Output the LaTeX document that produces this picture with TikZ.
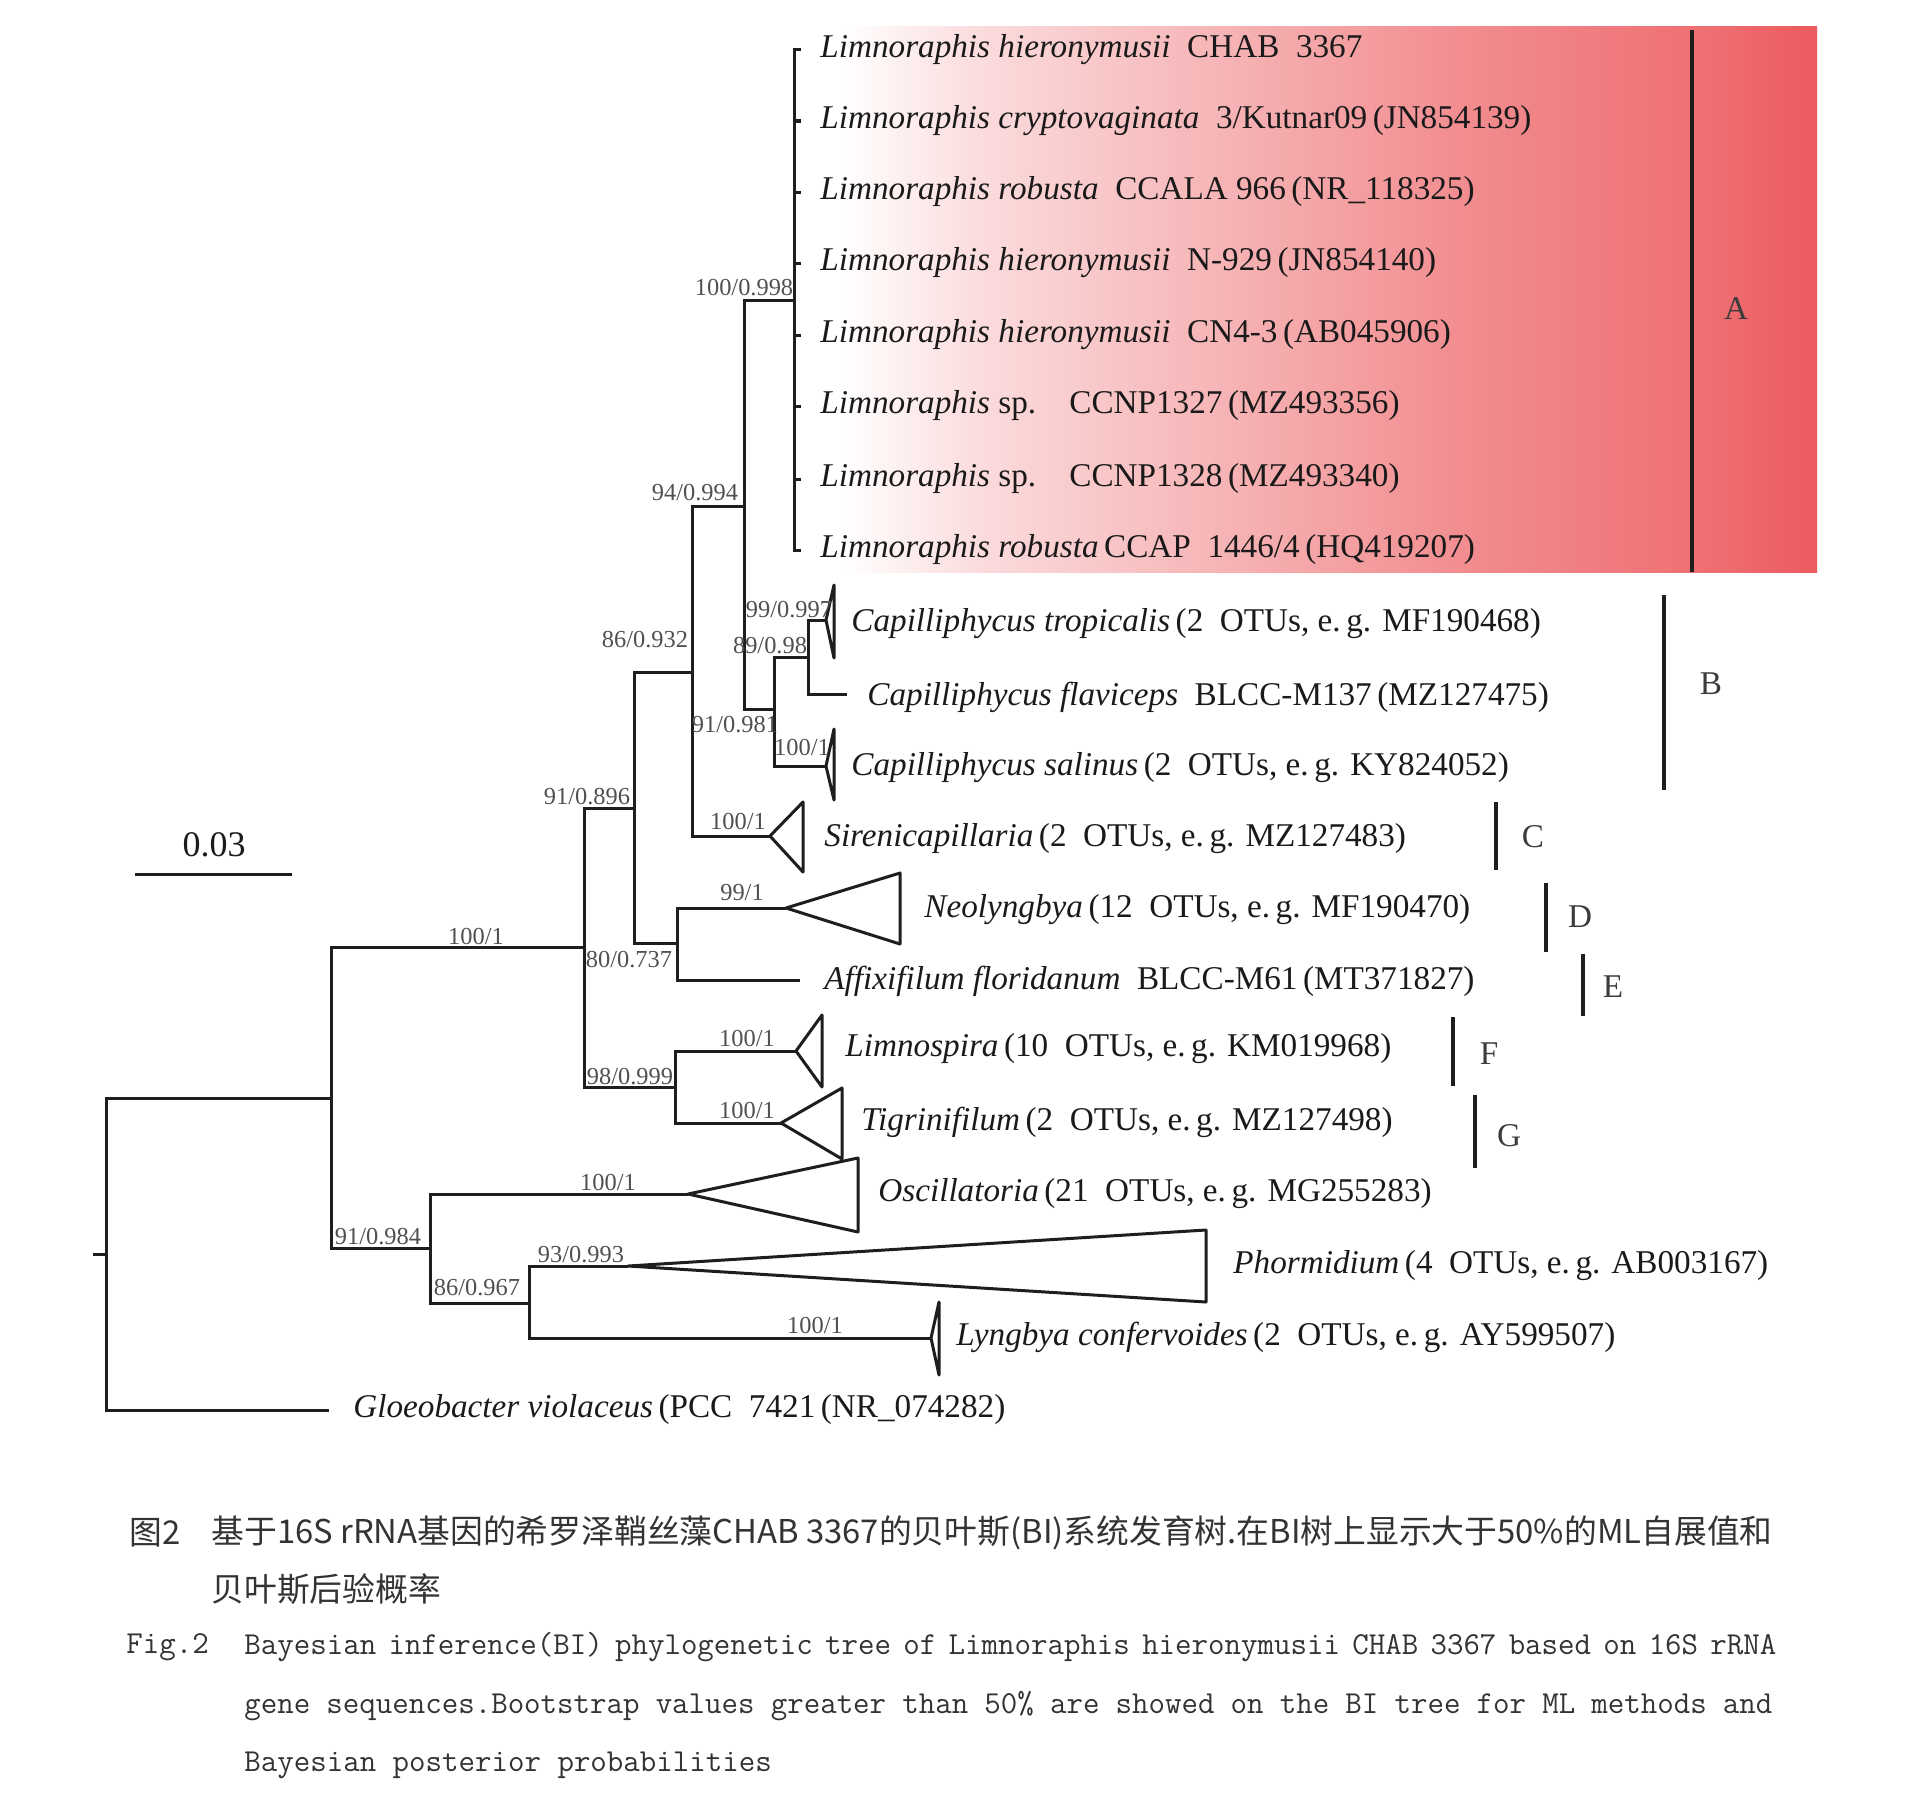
\documentclass[tikz,border=0pt]{standalone}
\usepackage{fontspec}
\setmainfont{Liberation Serif}
\newfontfamily\cjk{Noto Sans CJK SC}
\definecolor{treeCol}{HTML}{1E1E1E}
\definecolor{txtCol}{HTML}{1A1A1A}
\definecolor{suppCol}{HTML}{505050}
\definecolor{cladeTxt}{HTML}{3C3C3C}
\definecolor{capCol}{HTML}{333333}
\definecolor{cladeRed}{RGB}{236,90,94}
\pgfdeclarehorizontalshading{cladeAshade}{100bp}{color(0bp)=(white); color(27bp)=(white); color(34bp)=(cladeRed!22!white); color(46bp)=(cladeRed!46!white); color(58bp)=(cladeRed!70!white); color(70bp)=(cladeRed!88!white); color(75bp)=(cladeRed); color(100bp)=(cladeRed)}
\tikzset{
  branch/.style={line width=1.5pt, draw=treeCol},
  tri/.style={line width=1.5pt, draw=treeCol, line join=round},
  cbar/.style={line width=1.8pt, draw=treeCol},
  taxon/.style={anchor=west, inner sep=0pt, text=txtCol, font=\fontsize{16.6}{20}\selectfont},
  supp/.style={inner sep=0pt, text=suppCol, font=\fontsize{12.2}{14}\selectfont},
  cladelbl/.style={inner sep=0pt, text=cladeTxt, font=\fontsize{16.6}{20}\selectfont},
  capcn/.style={anchor=west, inner sep=0pt, text=capCol, font=\cjk\fontsize{16.4}{20}\selectfont},
  capen/.style={anchor=west, inner sep=0pt, text=capCol, font=\ttfamily\fontsize{16}{19}\selectfont},
}
\begin{document}
\begin{tikzpicture}[x=0.5pt,y=-0.5pt]
\useasboundingbox (0,0) rectangle (1920,1798);
% clade A background
\shade[shading=cladeAshade] (800,27) rectangle (1817,572);

% internal nodes
\coordinate (rootstub) at (93,1254);
\coordinate (root) at (106,1254);
\coordinate (n1) at (331,1098);
\coordinate (n2) at (584,947);
\coordinate (n3) at (634,808);
\coordinate (n4) at (692,672);
\coordinate (n5) at (744,506);
\coordinate (nLim) at (794,300);
\coordinate (n6) at (774,709);
\coordinate (n7) at (808,657);
\coordinate (nNA) at (677,943);
\coordinate (nLT) at (675,1087);
\coordinate (n8) at (430,1248);
\coordinate (n9) at (529,1303);
% tips
\coordinate (l1) at (801,50);
\coordinate (l2) at (801,121);
\coordinate (l3) at (801,192);
\coordinate (l4) at (801,263);
\coordinate (l5) at (801,335);
\coordinate (l6) at (801,406);
\coordinate (l7) at (801,479);
\coordinate (l8) at (801,550);
\coordinate (tCt) at (826,620);
\coordinate (tCf) at (847,694);
\coordinate (tCs) at (826,766);
\coordinate (tSir) at (770,836);
\coordinate (tNeo) at (786,908);
\coordinate (tAff) at (800,980);
\coordinate (tLim) at (796,1051);
\coordinate (tTig) at (781,1123);
\coordinate (tOsc) at (688,1194);
\coordinate (tPho) at (628,1266);
\coordinate (tLyn) at (931,1338);
\coordinate (tGlo) at (329,1410);

% branches
\draw[branch] (rootstub) -- (root);
\draw[branch] (root) |- (n1);
\draw[branch] (root) |- (tGlo);
\draw[branch] (n1) |- (n2);
\draw[branch] (n1) |- (n8);
\draw[branch] (n2) |- (n3);
\draw[branch] (n2) |- (nLT);
\draw[branch] (n3) |- (n4);
\draw[branch] (n3) |- (nNA);
\draw[branch] (n4) |- (n5);
\draw[branch] (n4) |- (tSir);
\draw[branch] (n5) |- (nLim);
\draw[branch] (n5) |- (n6);
\foreach \l in {l1,l2,l3,l4,l5,l6,l7,l8} \draw[branch] (nLim) |- (\l);
\draw[branch] (n6) |- (n7);
\draw[branch] (n6) |- (tCs);
\draw[branch] (n7) |- (tCt);
\draw[branch] (n7) |- (tCf);
\draw[branch] (nNA) |- (tNeo);
\draw[branch] (nNA) |- (tAff);
\draw[branch] (nLT) |- (tLim);
\draw[branch] (nLT) |- (tTig);
\draw[branch] (n8) |- (tOsc);
\draw[branch] (n8) |- (n9);
\draw[branch] (n9) |- (tPho);
\draw[branch] (n9) |- (tLyn);

% collapsed clades
\draw[tri] (tCt) -- ++(8,-35) -- ++(0,73) -- cycle;
\draw[tri] (tCs) -- ++(8,-37) -- ++(0,71) -- cycle;
\draw[tri] (tSir) -- ++(33,-34) -- ++(0,70) -- cycle;
\draw[tri] (tNeo) -- ++(114,-35) -- ++(0,71) -- cycle;
\draw[tri] (tLim) -- ++(26,-36) -- ++(0,72) -- cycle;
\draw[tri] (tTig) -- ++(61,-35) -- ++(0,71) -- cycle;
\draw[tri] (tOsc) -- ++(170,-36) -- ++(0,74) -- cycle;
\draw[tri] (tPho) -- ++(578,-36) -- ++(0,72) -- cycle;
\draw[tri] (tLyn) -- ++(8,-36) -- ++(0,73) -- cycle;

% support values
\node[supp] (s1) at (744,288) {100/0.998};
\node[supp] (s2) at (695,493) {94/0.994};
\node[supp] (s3) at (645,640) {86/0.932};
\node[supp] (s4) at (789,610) {99/0.997};
\node[supp] (s5) at (770,646) {89/0.98};
\node[supp] (s6) at (735,725) {91/0.981};
\node[supp] (s7) at (802,747) {100/1};
\node[supp] (s8) at (738,821) {100/1};
\node[supp] (s9) at (587,797) {91/0.896};
\node[supp] (s10) at (742,893) {99/1};
\node[supp] (s11) at (629,960) {80/0.737};
\node[supp] (s12) at (476,936) {100/1};
\node[supp] (s13) at (630,1077) {98/0.999};
\node[supp] (s14) at (747,1038) {100/1};
\node[supp] (s15) at (747,1110) {100/1};
\node[supp] (s16) at (608,1182) {100/1};
\node[supp] (s17) at (378,1237) {91/0.984};
\node[supp] (s18) at (581,1255) {93/0.993};
\node[supp] (s19) at (477,1288) {86/0.967};
\node[supp] (s20) at (815,1325) {100/1};

% taxon labels
\node[taxon] (lab1) at (820,50) {\textit{Limnoraphis hieronymusii}\enspace CHAB\enspace 3367};
\node[taxon] (lab2) at (820,121) {\textit{Limnoraphis cryptovaginata}\enspace 3/Kutnar09\,(JN854139)};
\node[taxon] (lab3) at (820,192) {\textit{Limnoraphis robusta}\enspace CCALA 966\,(NR\_118325)};
\node[taxon] (lab4) at (820,263) {\textit{Limnoraphis hieronymusii}\enspace N-929\,(JN854140)};
\node[taxon] (lab5) at (820,335) {\textit{Limnoraphis hieronymusii}\enspace CN4-3\,(AB045906)};
\node[taxon] (lab6) at (820,406) {\textit{Limnoraphis} sp.\quad CCNP1327\,(MZ493356)};
\node[taxon] (lab7) at (820,479) {\textit{Limnoraphis} sp.\quad CCNP1328\,(MZ493340)};
\node[taxon] (lab8) at (820,550) {\textit{Limnoraphis robusta}\,CCAP\enspace 1446/4\,(HQ419207)};
\node[taxon] (lab9) at (851,624) {\textit{Capilliphycus tropicalis}\,(2\enspace OTUs, e.\,g. MF190468)};
\node[taxon] (lab10) at (867,697) {\textit{Capilliphycus flaviceps}\enspace BLCC-M137\,(MZ127475)};
\node[taxon] (lab11) at (851,768) {\textit{Capilliphycus salinus}\,(2\enspace OTUs, e.\,g. KY824052)};
\node[taxon] (lab12) at (824,839) {\textit{Sirenicapillaria}\,(2\enspace OTUs, e.\,g. MZ127483)};
\node[taxon] (lab13) at (924,910) {\textit{Neolyngbya}\,(12\enspace OTUs, e.\,g. MF190470)};
\node[taxon] (lab14) at (824,981) {\textit{Affixifilum floridanum}\enspace BLCC-M61\,(MT371827)};
\node[taxon] (lab15) at (845,1049) {\textit{Limnospira}\,(10\enspace OTUs, e.\,g. KM019968)};
\node[taxon] (lab16) at (861,1122) {\textit{Tigrinifilum}\,(2\enspace OTUs, e.\,g. MZ127498)};
\node[taxon] (lab17) at (878,1194) {\textit{Oscillatoria}\,(21\enspace OTUs, e.\,g. MG255283)};
\node[taxon] (lab18) at (1233,1266) {\textit{Phormidium}\,(4\enspace OTUs, e.\,g. AB003167)};
\node[taxon] (lab19) at (956,1337) {\textit{Lyngbya confervoides}\,(2\enspace OTUs, e.\,g. AY599507)};
\node[taxon] (lab20) at (353,1409) {\textit{Gloeobacter violaceus}\,(PCC\enspace 7421\,(NR\_074282)};

% clade bars
\coordinate (A1) at (1692,30);  \coordinate (A2) at (1692,572);
\coordinate (B1) at (1664,595); \coordinate (B2) at (1664,790);
\coordinate (C1) at (1496,802); \coordinate (C2) at (1496,870);
\coordinate (D1) at (1546,883); \coordinate (D2) at (1546,952);
\coordinate (E1) at (1583,954); \coordinate (E2) at (1583,1016);
\coordinate (F1) at (1453,1017); \coordinate (F2) at (1453,1086);
\coordinate (G1) at (1475,1095); \coordinate (G2) at (1475,1168);
\draw[cbar] (A1) -- (A2);
\draw[cbar] (B1) -- (B2);
\draw[cbar] (C1) -- (C2);
\draw[cbar] (D1) -- (D2);
\draw[cbar] (E1) -- (E2);
\draw[cbar] (F1) -- (F2);
\draw[cbar] (G1) -- (G2);
\node[cladelbl] (cA) at (1736,309) {A};
\node[cladelbl] (cB) at (1711,684) {B};
\node[cladelbl] (cC) at (1533,837) {C};
\node[cladelbl] (cD) at (1580,917) {D};
\node[cladelbl] (cE) at (1613,987) {E};
\node[cladelbl] (cF) at (1489,1054) {F};
\node[cladelbl] (cG) at (1509,1136) {G};

% scale bar
\coordinate (sb1) at (135,874);
\coordinate (sb2) at (292,874);
\draw[branch] (sb1) -- (sb2);
\node[inner sep=0pt, text=txtCol, font=\fontsize{18}{20}\selectfont] (sbl) at (214,845) {0.03};

% caption
\node[capcn] (c1a) at (129,1533) {图2};
\node[capcn] (c1b) at (211,1533) {基于16S rRNA基因的希罗泽鞘丝藻CHAB 3367的贝叶斯(BI)系统发育树.在BI树上显示大于50\%的ML自展值和};
\node[capcn] (c2) at (211,1589) {贝叶斯后验概率};
\node[capen] (c3a) at (126,1647) {Fig.2};
\node[capen] (c3b) at (244,1647) {\frenchspacing\spaceskip=0.525em plus 0.4em minus 0.3em\makebox[766pt][s]{Bayesian inference(BI) phylogenetic tree of Limnoraphis hieronymusii CHAB 3367 based on 16S rRNA}};
\node[capen] (c4) at (244,1706) {\frenchspacing\spaceskip=0.525em plus 0.4em minus 0.3em\makebox[764pt][s]{gene sequences.Bootstrap values greater than 50\% are showed on the BI tree for ML methods and}};
\node[capen] (c5) at (244,1765) {Bayesian posterior probabilities};
\end{tikzpicture}
\end{document}
